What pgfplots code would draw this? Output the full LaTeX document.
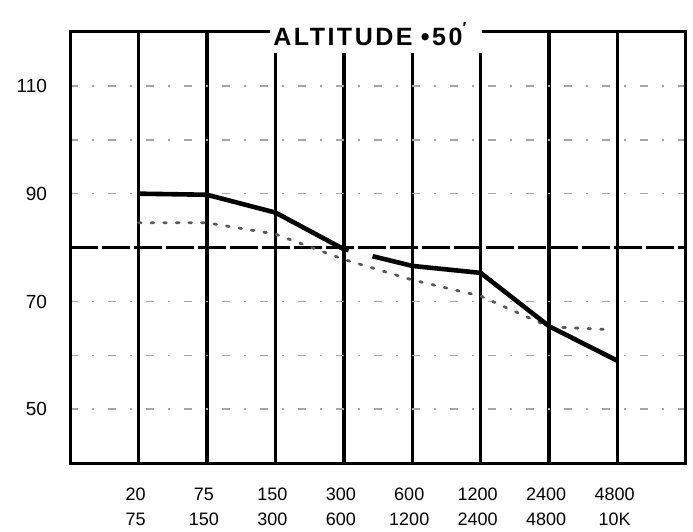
\documentclass[border=0pt]{standalone}
\usepackage{fontspec}
\setmainfont{Liberation Sans}
\newfontfamily\titlefont[LetterSpace=10]{Liberation Sans}
\usepackage{pgfplots}
\pgfplotsset{compat=1.18}
\begin{document}
\begin{tikzpicture}
\begin{axis}[
  width=307.8pt, height=215.5pt, scale only axis,
  xmin=0, xmax=9, ymin=40, ymax=120,
  axis line style={black, line width=1.5pt},
  xtick={1,...,8},
  xticklabels={{20\\75},{75\\150},{150\\300},{300\\600},{600\\1200},{1200\\2400},{2400\\4800},{4800\\10K}},
  xticklabel style={align=center, font=\fontsize{9}{12.3}\selectfont, yshift=-9pt, xshift=-1.5pt},
  ytick={50,70,90,110},
  yticklabel style={font=\fontsize{9.5}{11}\selectfont, xshift=-8pt},
  minor ytick={50,60,70,90,100,110},
  xmajorgrids, yminorgrids,
  major grid style={black, line width=1.75pt},
  minor grid style={black!35, line width=0.8pt, dash pattern=on 4pt off 7pt on 1pt off 7pt},
  extra y ticks={80}, extra y tick labels={},
  extra y tick style={ymajorgrids=true, major grid style={black, line width=1.3pt, dash pattern=on 14pt off 2pt}},
  major tick length=0pt, minor tick length=0pt,
  /pgf/number format/assume math mode=true,
  clip=false,
]
\addplot[black!65, line width=1.4pt, dash pattern=on 1.3pt off 5pt, line cap=round]
  coordinates {(1,84.6) (2,84.6) (3,82.5) (4,77.8) (5,74.0) (6,71.0) (7,65.3) (7.85,64.8)};
\addplot[black, line width=2.3pt, line join=round]
  coordinates {(1,90) (2,89.8) (3,86.5) (4,79.7) (4.07,79.5)};
\addplot[black, line width=2.3pt, line join=round]
  coordinates {(4.42,78.4) (5,76.6) (6,75.3) (7,65.4) (8,59.0)};
\coordinate (mA) at (axis cs:2.92,116.1);
\coordinate (mB) at (axis cs:6.02,125);
\coordinate (tT) at (axis cs:4.38,119.6);
\coordinate (bbSW) at (rel axis cs:-0.1138,-0.1578);
\coordinate (bbNE) at (rel axis cs:1.0114,1.0742);
\end{axis}
\fill[white] (mA) rectangle (mB);
\node[font=\titlefont\fontsize{12.5}{14}\selectfont\bfseries, inner sep=0pt] at (tT) {ALTITUDE\,\,\textbullet50\raisebox{0.45em}{\fontsize{8}{8}\selectfont\char"2032}};
\pgfresetboundingbox
\path[use as bounding box] (bbSW) rectangle (bbNE);
\end{tikzpicture}
\end{document}
